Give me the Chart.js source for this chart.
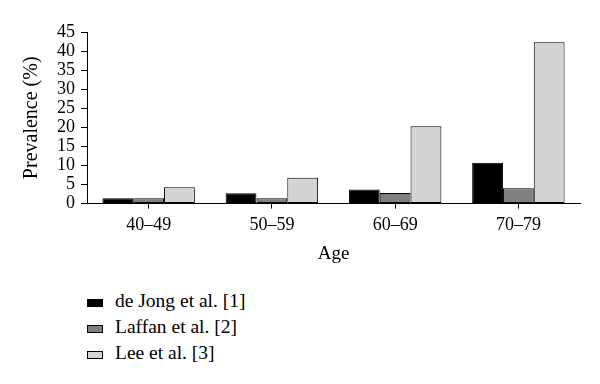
<!DOCTYPE html>
<html>
<head>
<meta charset="utf-8">
<script src="https://cdn.jsdelivr.net/npm/chart.js@4.4.1/dist/chart.umd.min.js"></script>
<style>
  body { margin: 0; background: #fff; }
  .wrap { position: relative; width: 600px; height: 384px; }
  .box { position: absolute; left: 0; top: 0; width: 600px; height: 275px; }
  .legend { position: absolute; left: 87px; top: 288px; font-family: "Liberation Serif", serif; font-size: 19.5px; color: #000; }
  .legend div { height: 26px; line-height: 26px; white-space: nowrap; }
  .legend span { display: inline-block; width: 14px; height: 6px; border: 1px solid #000; margin-right: 12px; vertical-align: middle; }
</style>
</head>
<body>
<div class="wrap">
  <div class="box"><canvas id="prevChart"></canvas></div>
  <div class="legend" id="legend"></div>
</div>
<script>
const ages = ['40–49', '50–59', '60–69', '70–79'];
const deJong = [1.4, 2.7, 3.7, 10.7];
const laffan = [1.4, 1.4, 2.8, 4.0];
const lee = [4.3, 6.8, 20.3, 42.3];
const names = ['de Jong et al. [1]', 'Laffan et al. [2]', 'Lee et al. [3]'];
const fills = ['#000000', '#808080', '#d4d4d4'];
const yTicks = [0, 5, 10, 15, 20, 25, 30, 35, 40, 45];

Chart.defaults.color = '#000';
Chart.defaults.font.family = '"Liberation Serif", serif';

const series = [deJong, laffan, lee];

const ctx = document.getElementById('prevChart').getContext('2d');
const prevChart = new Chart(ctx, {
  type: 'bar',
  data: {
    labels: ages,
    datasets: series.map((vals, i) => ({
      label: names[i],
      data: vals,
      backgroundColor: fills[i],
      borderColor: '#000',
      borderWidth: 1,
      borderSkipped: false,
      categoryPercentage: 0.75,
      barPercentage: 1.0
    }))
  },
  options: {
    responsive: true,
    maintainAspectRatio: false,
    animation: false,
    layout: { padding: { left: 16, right: 20, top: 32, bottom: 10 } },
    plugins: {
      legend: { display: false },
      tooltip: { enabled: false }
    },
    scales: {
      x: {
        grid: { display: true, drawOnChartArea: false, offset: false, color: '#000', tickLength: 5 },
        border: { color: '#000', width: 1 },
        ticks: { font: { size: 18 }, padding: 6, color: '#000' },
        title: { display: true, text: 'Age', font: { size: 19 }, padding: { top: 0, bottom: 0 }, color: '#000' }
      },
      y: {
        min: 0,
        max: 45,
        afterBuildTicks: (axis) => { axis.ticks = yTicks.map(v => ({ value: v })); },
        grid: { display: true, drawOnChartArea: false, color: '#000', tickLength: 6 },
        border: { color: '#000', width: 1 },
        ticks: { font: { size: 18 }, padding: 6, color: '#000', autoSkip: false },
        title: { display: true, text: 'Prevalence (%)', font: { size: 20 }, padding: { top: 4, bottom: 7 }, color: '#000' }
      }
    }
  }
});

// legend as plain html, one row per study
const legend = document.getElementById('legend');
names.forEach((n, i) => {
  const row = document.createElement('div');
  const sw = document.createElement('span');
  sw.style.background = fills[i];
  row.appendChild(sw);
  row.appendChild(document.createTextNode(n));
  legend.appendChild(row);
});
</script>
</body>
</html>
